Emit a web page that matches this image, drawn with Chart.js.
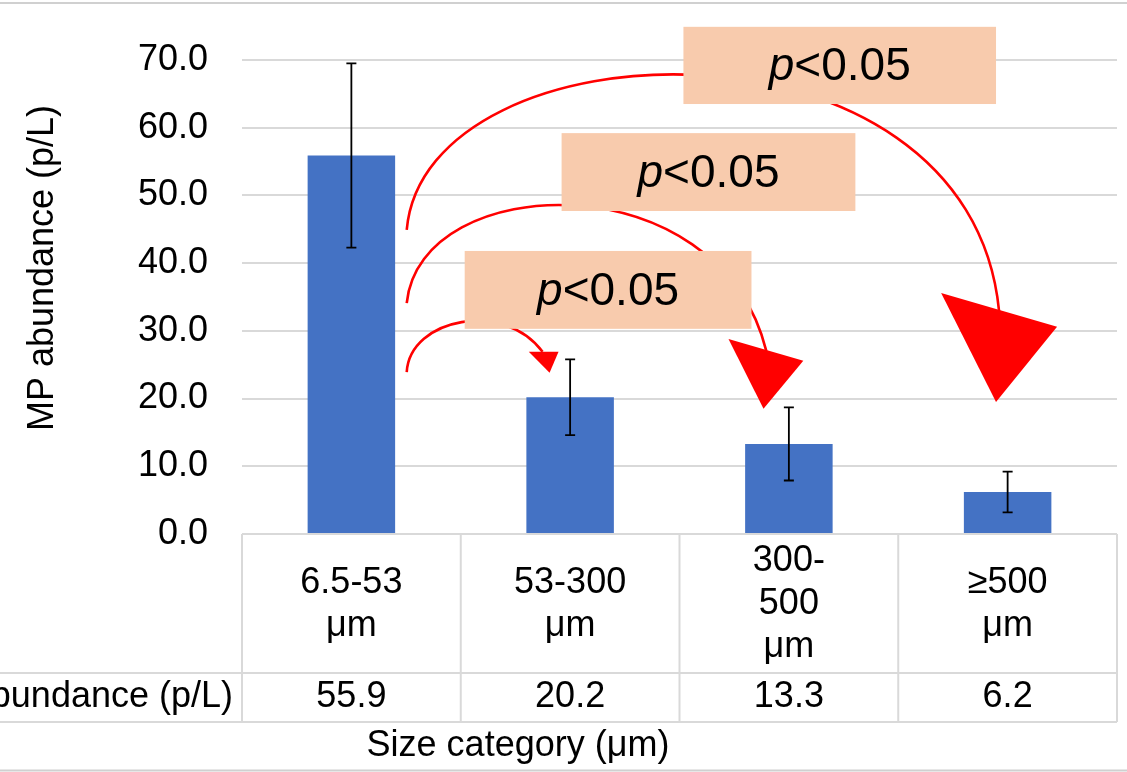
<!DOCTYPE html>
<html>
<head>
<meta charset="utf-8">
<script src="https://cdn.jsdelivr.net/npm/chart.js@4.4.0/dist/chart.umd.min.js"></script>
<style>
  html, body { margin: 0; padding: 0; background: #fff; }
</style>
</head>
<body>
<canvas id="myChart" width="1127" height="772"></canvas>
<script>
// size classes, one entry per printed line of the table label
var categories = [["6.5-53", "μm"], ["53-300", "μm"], ["300-", "500", "μm"], ["≥500", "μm"]];
var abundance = [55.9, 20.2, 13.3, 6.2];
var errors = [13.6, 5.6, 5.4, 3.0];
var yTicks = [0, 10, 20, 30, 40, 50, 60, 70];
var pText = "<0.05";

// significance arrows, points as [category index, p/L]
var arrows = [
  { curve: [[0.253, 44.9], [0.336, 75.9], [2.824, 78.9], [2.961, 32.9]],
    head: [[2.696, 35.6], [3.226, 30.6], [2.947, 19.5]] },
  { curve: [[0.253, 34.1], [0.313, 53.8], [1.683, 55.2], [1.897, 27.0]],
    head: [[1.724, 28.8], [2.066, 25.6], [1.884, 18.5]] },
  { curve: [[0.253, 23.9], [0.267, 31.9], [0.701, 34.6], [0.874, 26.9]],
    head: [[0.811, 26.9], [0.947, 26.9], [0.906, 23.8]] }
];
// label boxes, [left index, top value] to [right index, bottom value]
var boxes = [
  [[1.518, 74.9], [2.947, 63.5]],
  [[0.961, 59.2], [2.304, 47.7]],
  [[0.518, 41.8], [1.829, 30.3]]
];

var FONT = "'Liberation Sans', Arial, sans-serif";
var GRID = "#d9d9d9";

var annotate = {
  id: "annotate",
  afterDatasetsDraw: function (chart) {
    var c = chart.ctx, x = chart.scales.x, y = chart.scales.y;
    function pt(p) { return [x.getPixelForValue(p[0]), y.getPixelForValue(p[1])]; }
    c.save();

    // error bars
    c.strokeStyle = "#000";
    c.lineWidth = 1.8;
    abundance.forEach(function (v, i) {
      var px = x.getPixelForValue(i);
      var top = y.getPixelForValue(v + errors[i]);
      var bot = y.getPixelForValue(v - errors[i]);
      c.beginPath();
      c.moveTo(px, top); c.lineTo(px, bot);
      c.moveTo(px - 5, top); c.lineTo(px + 5, top);
      c.moveTo(px - 5, bot); c.lineTo(px + 5, bot);
      c.stroke();
    });

    // curved arrows
    c.strokeStyle = "#ff0000";
    c.fillStyle = "#ff0000";
    c.lineWidth = 2.6;
    arrows.forEach(function (a) {
      var p = a.curve.map(pt);
      c.beginPath();
      c.moveTo(p[0][0], p[0][1]);
      c.bezierCurveTo(p[1][0], p[1][1], p[2][0], p[2][1], p[3][0], p[3][1]);
      c.stroke();
      var h = a.head.map(pt);
      c.beginPath();
      c.moveTo(h[0][0], h[0][1]);
      c.lineTo(h[1][0], h[1][1]);
      c.lineTo(h[2][0], h[2][1]);
      c.closePath();
      c.fill();
    });

    // p<0.05 boxes
    boxes.forEach(function (b) {
      var a = pt(b[0]), z = pt(b[1]);
      c.fillStyle = "#f8cbad";
      c.fillRect(a[0], a[1], z[0] - a[0], z[1] - a[1]);
      c.fillStyle = "#000";
      c.textBaseline = "middle";
      c.textAlign = "left";
      c.font = "italic 46px " + FONT;
      var w1 = c.measureText("p").width;
      c.font = "46px " + FONT;
      var w2 = c.measureText(pText).width;
      var sx = (a[0] + z[0]) / 2 - (w1 + w2) / 2;
      var cy = (a[1] + z[1]) / 2 + 2;
      c.font = "italic 46px " + FONT;
      c.fillText("p", sx, cy);
      c.font = "46px " + FONT;
      c.fillText(pText, sx + w1, cy);
    });
    c.restore();
  },
  afterDraw: function (chart) {
    var c = chart.ctx, x = chart.scales.x, y = chart.scales.y;
    var n = categories.length;
    var w = (x.right - x.left) / n;
    var top = y.getPixelForValue(0);
    var mid = top + 139, bot = mid + 49;
    c.save();

    // data table grid
    c.strokeStyle = GRID;
    c.lineWidth = 2;
    c.beginPath();
    c.moveTo(x.left, top); c.lineTo(x.right, top);
    c.moveTo(0, mid); c.lineTo(x.right, mid);
    c.moveTo(0, bot); c.lineTo(x.right, bot);
    for (var i = 0; i <= n; i++) {
      c.moveTo(x.left + i * w, top);
      c.lineTo(x.left + i * w, bot);
    }
    c.stroke();

    // table text
    c.fillStyle = "#000";
    c.font = "36px " + FONT;
    c.textAlign = "center";
    c.textBaseline = "middle";
    categories.forEach(function (lines, i) {
      var cx = x.getPixelForValue(i);
      var y0 = (top + mid) / 2 + 1 - (lines.length - 1) * 43 / 2;
      lines.forEach(function (s, k) { c.fillText(s, cx, y0 + k * 43); });
      c.fillText(abundance[i].toFixed(1), cx, (mid + bot) / 2);
    });
    c.textAlign = "right";
    c.fillText("MP abundance (p/L)", x.left - 9, (mid + bot) / 2);

    // axis titles
    c.textAlign = "center";
    c.fillText("Size category (μm)", 518, bot + 24);
    c.translate(43, 268);
    c.rotate(-Math.PI / 2);
    c.fillText("MP abundance (p/L)", 0, 0);
    c.setTransform(1, 0, 0, 1, 0, 0);

    // chart frame (top and bottom edges)
    c.strokeStyle = "#d0d0d0";
    c.lineWidth = 2;
    c.beginPath();
    c.moveTo(0, 3); c.lineTo(chart.width, 3);
    c.moveTo(0, 770.5); c.lineTo(chart.width, 770.5);
    c.stroke();
    c.restore();
  }
};

var ctx = document.getElementById("myChart").getContext("2d");
var myChart = new Chart(ctx, {
  type: "bar",
  data: {
    labels: categories.map(function (l) { return l.join(" "); }),
    datasets: [{
      label: "MP abundance (p/L)",
      data: abundance,
      backgroundColor: "#4472c4",
      borderWidth: 0,
      barPercentage: 0.4,
      categoryPercentage: 1.0
    }]
  },
  options: {
    responsive: false,
    animation: false,
    devicePixelRatio: 1,
    layout: { padding: { top: 60, right: 10, bottom: 238, left: 0 } },
    plugins: { legend: { display: false }, tooltip: { enabled: false } },
    scales: {
      x: { display: false },
      y: {
        min: 0,
        max: 70,
        afterBuildTicks: function (s) { s.ticks = yTicks.map(function (v) { return { value: v }; }); },
        afterFit: function (s) { s.width = 242; },
        ticks: {
          padding: 34,
          color: "#000",
          font: { family: FONT, size: 36 },
          callback: function (v) { return v.toFixed(1); }
        },
        grid: { color: GRID, lineWidth: 2, drawTicks: false },
        border: { display: false }
      }
    }
  },
  plugins: [annotate]
});
</script>
</body>
</html>
